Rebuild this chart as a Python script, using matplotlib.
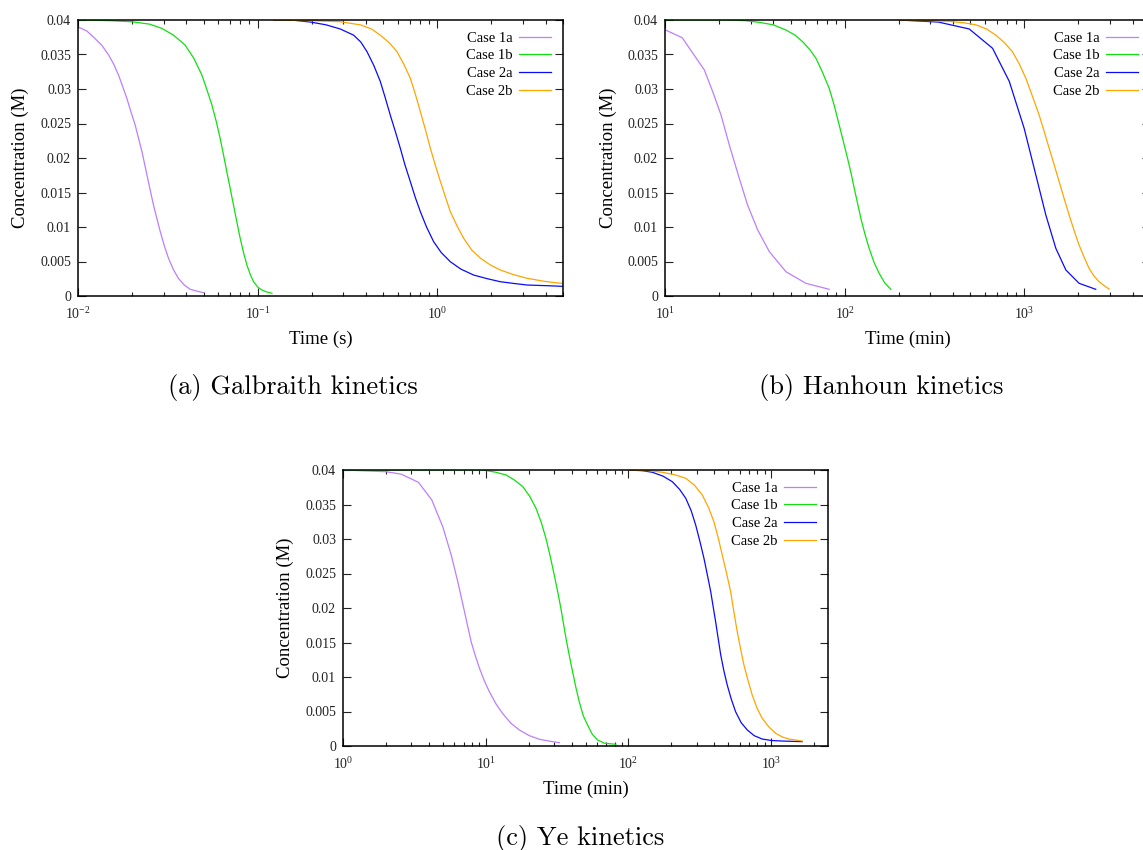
"""Concentration decay curves for three kinetic models (gnuplot-style panels)."""

import math

import matplotlib

matplotlib.use("Agg")
import matplotlib.pyplot as plt
from matplotlib.ticker import FixedLocator, FuncFormatter, LogLocator, NullFormatter

plt.rcParams["font.family"] = ["Liberation Serif", "DejaVu Serif"]
plt.rcParams["mathtext.fontset"] = "custom"
plt.rcParams["mathtext.rm"] = "Liberation Serif"
plt.rcParams["mathtext.it"] = "Liberation Serif:italic"

# ---- data ------------------------------------------------------------------
CASES = ["Case 1a", "Case 1b", "Case 2a", "Case 2b"]
COLORS = ["#bb7fff", "#10e010", "#0a0aff", "#ffa500"]
Y_TICKS = [0, 0.005, 0.01, 0.015, 0.02, 0.025, 0.03, 0.035, 0.04]

# (a) Galbraith kinetics, time in s
ga_1a_t = [0.0100, 0.0112, 0.0124, 0.0136, 0.0148, 0.0158, 0.0168, 0.0177, 0.0187,
           0.0197, 0.0208, 0.0217, 0.0227, 0.0242, 0.0252, 0.0263, 0.0275, 0.0287,
           0.0302, 0.0319, 0.0340, 0.0362, 0.0390, 0.0421, 0.0460, 0.0499]
ga_1a_c = [0.0390, 0.0384, 0.03735, 0.0363, 0.03493, 0.0336, 0.03203, 0.0304,
           0.02865, 0.0267, 0.02478, 0.0229, 0.02091, 0.01754, 0.0154, 0.01319,
           0.0112, 0.00932, 0.0073, 0.00546, 0.0038, 0.00256, 0.0016, 0.00097,
           0.0007, 0.00048]
ga_1b_t = [0.0100, 0.0150, 0.0199, 0.0250, 0.0292, 0.0340, 0.0394, 0.0440, 0.0489,
           0.0520, 0.0556, 0.0588, 0.0618, 0.0646, 0.0673, 0.0703, 0.0733, 0.0766,
           0.0799, 0.0834, 0.0871, 0.0910, 0.0948, 0.1000, 0.1055, 0.1120, 0.1200]
ga_1b_c = [0.0400, 0.0399, 0.03975, 0.0394, 0.0388, 0.0378, 0.03638, 0.0345,
           0.03203, 0.0300, 0.02768, 0.0253, 0.02285, 0.0204, 0.01801, 0.0156,
           0.01319, 0.0107, 0.00836, 0.0063, 0.00449, 0.0031, 0.00207, 0.0013,
           0.00087, 0.0006, 0.00039]
ga_2a_t = [0.123, 0.160, 0.197, 0.240, 0.288, 0.342, 0.375, 0.406, 0.443, 0.481,
           0.513, 0.547, 0.584, 0.622, 0.660, 0.707, 0.753, 0.804, 0.870, 0.953,
           1.05, 1.18, 1.35, 1.59, 1.90, 2.24, 2.70, 3.16, 4.00, 5.00]
ga_2a_c = [0.0400, 0.03995, 0.0397, 0.0393, 0.0387, 0.0378, 0.0368, 0.0354, 0.0334,
           0.0311, 0.0287, 0.0262, 0.0238, 0.0214, 0.0190, 0.01657, 0.0143,
           0.01222, 0.0100, 0.00787, 0.0063, 0.00497, 0.0039, 0.00304, 0.0025,
           0.00207, 0.0018, 0.00159, 0.0015, 0.00140]
ga_2b_t = [0.123, 0.200, 0.288, 0.372, 0.430, 0.481, 0.540, 0.596, 0.650, 0.707,
           0.755, 0.804, 0.860, 0.914, 0.975, 1.04, 1.11, 1.18, 1.29, 1.40, 1.56,
           1.74, 1.97, 2.24, 2.65, 3.16, 4.00, 5.00]
ga_2b_c = [0.0400, 0.0399, 0.03975, 0.0393, 0.0387, 0.0378, 0.0367, 0.0354, 0.0336,
           0.03155, 0.0292, 0.0267, 0.0240, 0.0214, 0.0189, 0.01657, 0.0143,
           0.01222, 0.0101, 0.00836, 0.0066, 0.00546, 0.0045, 0.00377, 0.0031,
           0.00256, 0.0021, 0.00180]

# (b) Hanhoun kinetics, time in min
gb_1a_t = [10.06, 12.46, 16.56, 18.43, 20.5, 22.8, 25.9, 28.8, 32.8, 38.1, 47.1,
           60.8, 82.0]
gb_1a_c = [0.03855, 0.03744, 0.03275, 0.02961, 0.02623, 0.02188, 0.01706, 0.01319,
           0.00957, 0.00642, 0.00352, 0.00184, 0.00097]
gb_1b_t = [10, 21.9, 28, 33.5, 40, 47.1, 53, 58.3, 64, 69.2, 75, 82, 87.5, 93.2,
           98.5, 103.7, 108.5, 113, 118, 123, 129.5, 136.8, 145.5, 155.5, 167, 180.6]
gb_1b_c = [0.0400, 0.0400, 0.0399, 0.03966, 0.0393, 0.03855, 0.0378, 0.03686,
           0.0357, 0.03445, 0.0325, 0.0301, 0.0276, 0.02478, 0.0223, 0.01996,
           0.0178, 0.01561, 0.0134, 0.01126, 0.0090, 0.00691, 0.0049, 0.00329,
           0.0019, 0.00097]
gb_2a_t = [200, 332, 493, 665, 824, 997, 1158, 1316, 1496, 1701, 2015, 2494]
gb_2a_c = [0.0400, 0.0397, 0.0387, 0.0359, 0.0311, 0.0243, 0.01754, 0.01174,
           0.00691, 0.00377, 0.00184, 0.00097]
gb_2b_t = [200, 300, 382, 460, 537, 615, 694, 775, 858, 938, 1019, 1110, 1208, 1290,
           1374, 1465, 1561, 1665, 1774, 1890, 2015, 2150, 2290, 2440, 2603, 2780,
           2958]
gb_2b_c = [0.0400, 0.0399, 0.0398, 0.0396, 0.0393, 0.0387, 0.0378, 0.0367, 0.0354,
           0.0336, 0.03155, 0.0289, 0.02623, 0.0238, 0.0214, 0.0190, 0.01657,
           0.0141, 0.01174, 0.0095, 0.00739, 0.0056, 0.00401, 0.0029, 0.00207,
           0.0015, 0.00101]

# (c) Ye kinetics, time in min
gc_1a_t = [1.0, 2.01, 2.56, 3.38, 4.19, 5.00, 5.73, 6.37, 7.10, 7.90, 8.45, 9.04,
           9.80, 10.6, 11.8, 13.1, 15.0, 17.2, 20.2, 23.8, 28.0, 32.8]
gc_1a_c = [0.0400, 0.03975, 0.0394, 0.03821, 0.03565, 0.03178, 0.02768, 0.02381,
           0.01946, 0.01512, 0.0131, 0.01126, 0.0094, 0.00787, 0.0061, 0.00474,
           0.0033, 0.00232, 0.0015, 0.00097, 0.0007, 0.00048]
gc_1b_t = [1.0, 9.5, 11.6, 13.9, 16.0, 18.2, 20.3, 22.5, 24.5, 26.4, 28.3, 30.2,
           31.9, 33.6, 35.0, 36.5, 38.5, 40.6, 42.8, 45.2, 48.2, 51.7, 55.8, 60.7,
           68.0, 81.6]
gc_1b_c = [0.0400, 0.0400, 0.0397, 0.03928, 0.0385, 0.03758, 0.0362, 0.03445,
           0.0324, 0.0301, 0.0275, 0.02478, 0.0224, 0.01996, 0.0178, 0.01561,
           0.0131, 0.01077, 0.0085, 0.00642, 0.0044, 0.00304, 0.0017, 0.00087,
           0.0004, 0.00025]
gc_2a_t = [100, 125, 147, 175, 203, 228, 252, 275, 296, 317, 338, 357, 377, 392,
           408, 425, 443, 466, 492, 525, 563, 615, 680, 760, 865, 1000, 1195, 1648]
gc_2a_c = [0.0400, 0.0399, 0.03967, 0.0391, 0.0383, 0.0372, 0.0359, 0.0341, 0.0320,
           0.0296, 0.0272, 0.0248, 0.02236, 0.0202, 0.01801, 0.0156, 0.01319,
           0.0109, 0.00884, 0.0068, 0.00497, 0.0034, 0.00232, 0.0015, 0.00101,
           0.0008, 0.00072, 0.00063]
gc_2b_t = [100, 140, 173, 212, 252, 290, 329, 363, 397, 425, 454, 487, 520, 548, 578,
           610, 644, 688, 736, 795, 865, 960, 1074, 1200, 1331, 1648]
gc_2b_c = [0.0400, 0.0399, 0.03967, 0.0393, 0.0388, 0.0378, 0.03638, 0.0346,
           0.0325, 0.0302, 0.02768, 0.0250, 0.02236, 0.0194, 0.01657, 0.0141,
           0.01174, 0.0095, 0.00739, 0.0055, 0.00401, 0.0028, 0.00184, 0.0013,
           0.00101, 0.00072]

W, H = 1143, 850


def panel(fig, left_px, top_px, series, xlim, xmajor, xlabel, caption, cap_x):
    # axes box is 485 x 276 px in the reference
    ax = fig.add_axes([left_px / W, (H - top_px - 276) / H, 485 / W, 276 / H])
    for (t, c), name, col in zip(series, CASES, COLORS):
        ax.plot(t, c, color=col, lw=0.9, label=name)

    ax.set_xscale("log")
    ax.set_xlim(*xlim)
    ax.set_ylim(0, 0.04)
    ax.xaxis.set_major_locator(FixedLocator(xmajor))
    ax.xaxis.set_major_formatter(
        FuncFormatter(lambda v, p: r"$10^{%d}$" % round(math.log10(v))))
    ax.xaxis.set_minor_locator(LogLocator(base=10, subs=range(2, 10), numticks=20))
    ax.xaxis.set_minor_formatter(NullFormatter())
    ax.yaxis.set_major_locator(FixedLocator(Y_TICKS))
    ax.yaxis.set_major_formatter(FuncFormatter(lambda v, p: "%g" % v))

    ax.tick_params(which="both", direction="in", top=True, right=True,
                   labelsize=10, width=0.8, colors="#222222")
    ax.tick_params(which="major", length=5.5)
    ax.tick_params(which="minor", length=3)
    ax.tick_params(axis="x", pad=7)
    ax.tick_params(axis="y", pad=5)
    for s in ax.spines.values():
        s.set_linewidth(1.1)

    ax.set_xlabel(xlabel, fontsize=13.5)
    ax.set_ylabel("Concentration (M)", fontsize=13.5)
    ax.xaxis.set_label_coords(0.5, -0.125)
    ax.yaxis.set_label_coords(-0.10, 0.5)

    ax.legend(loc="upper right", frameon=False, markerfirst=False, fontsize=10.5,
              handlelength=2.2, handletextpad=0.45, labelspacing=0.3,
              borderaxespad=0.7, borderpad=0.1)

    fig.text(cap_x / W, (H - top_px - 368) / H, caption,
             family="cmr10", fontsize=19, ha="center", va="center")
    return ax


fig = plt.figure(figsize=(W / 100, H / 100), dpi=100)

panel(fig, 78, 20,
      [(ga_1a_t, ga_1a_c), (ga_1b_t, ga_1b_c), (ga_2a_t, ga_2a_c), (ga_2b_t, ga_2b_c)],
      (0.01, 5), [0.01, 0.1, 1], "Time (s)", "(a) Galbraith kinetics", 293)
panel(fig, 665, 20,
      [(gb_1a_t, gb_1a_c), (gb_1b_t, gb_1b_c), (gb_2a_t, gb_2a_c), (gb_2b_t, gb_2b_c)],
      (10, 5000), [10, 100, 1000], "Time (min)", "(b) Hanhoun kinetics", 881)
panel(fig, 343, 470,
      [(gc_1a_t, gc_1a_c), (gc_1b_t, gc_1b_c), (gc_2a_t, gc_2a_c), (gc_2b_t, gc_2b_c)],
      (1, 2500), [1, 10, 100, 1000], "Time (min)", "(c) Ye kinetics", 580)

fig.savefig("out.png", dpi=100)
